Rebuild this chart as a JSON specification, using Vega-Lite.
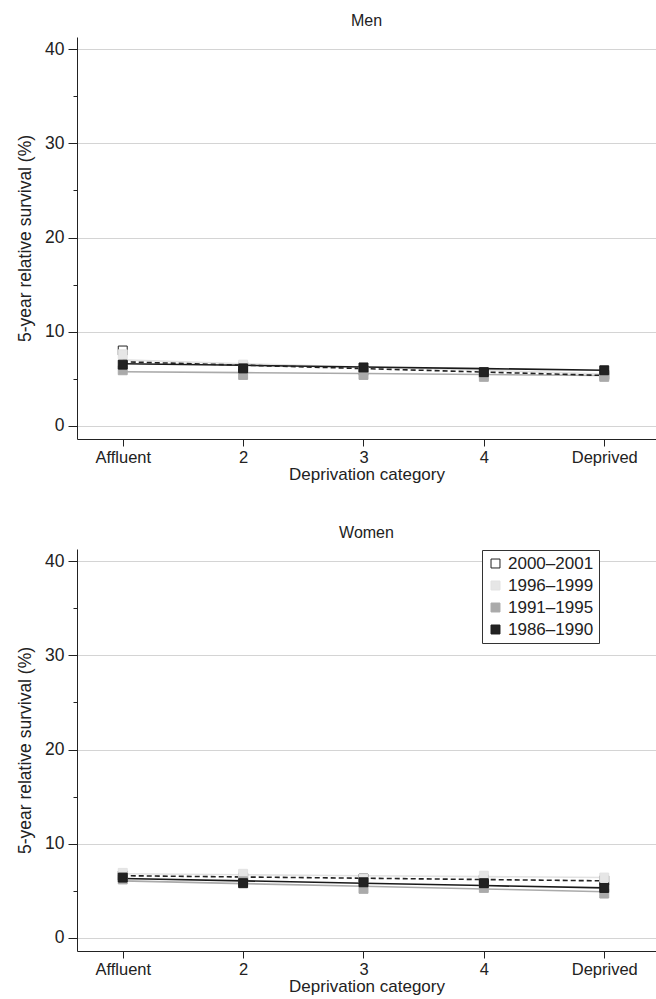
{
  "$schema": "https://vega.github.io/schema/vega-lite/v6.json",
  "background": "white",
  "padding": {"left": 16, "top": 13, "right": 0, "bottom": 0},
  "config": {
    "view": {"stroke": null},
    "font": "Liberation Sans",
    "axis": {"labelFontSize": 17, "titleFontSize": 17, "labelColor": "#222", "titleColor": "#222", "tickColor": "#222", "domainColor": "#222", "titleFontWeight": "normal", "gridColor": "#d4d4d4"},
    "title": {"fontSize": 16, "fontWeight": "normal", "color": "#222"}
  },
  "datasets": {
    "surv": [
      {"sex": "Men", "cat": 1, "period": "2000–2001", "value": 8.0, "fit": 6.8},
      {"sex": "Men", "cat": 2, "period": "2000–2001", "value": 6.3, "fit": 6.44},
      {"sex": "Men", "cat": 3, "period": "2000–2001", "value": 5.9, "fit": 6.08},
      {"sex": "Men", "cat": 4, "period": "2000–2001", "value": 5.6, "fit": 5.71},
      {"sex": "Men", "cat": 5, "period": "2000–2001", "value": 5.4, "fit": 5.35},
      {"sex": "Men", "cat": 1, "period": "1996–1999", "value": 7.6, "fit": 7.0},
      {"sex": "Men", "cat": 2, "period": "1996–1999", "value": 6.5, "fit": 6.6},
      {"sex": "Men", "cat": 3, "period": "1996–1999", "value": 5.8, "fit": 6.25},
      {"sex": "Men", "cat": 4, "period": "1996–1999", "value": 5.4, "fit": 5.9},
      {"sex": "Men", "cat": 5, "period": "1996–1999", "value": 5.3, "fit": 5.5},
      {"sex": "Men", "cat": 1, "period": "1991–1995", "value": 5.9, "fit": 5.75},
      {"sex": "Men", "cat": 2, "period": "1991–1995", "value": 5.4, "fit": 5.65},
      {"sex": "Men", "cat": 3, "period": "1991–1995", "value": 5.4, "fit": 5.55},
      {"sex": "Men", "cat": 4, "period": "1991–1995", "value": 5.2, "fit": 5.45},
      {"sex": "Men", "cat": 5, "period": "1991–1995", "value": 5.2, "fit": 5.35},
      {"sex": "Men", "cat": 1, "period": "1986–1990", "value": 6.5, "fit": 6.6},
      {"sex": "Men", "cat": 2, "period": "1986–1990", "value": 6.1, "fit": 6.43},
      {"sex": "Men", "cat": 3, "period": "1986–1990", "value": 6.2, "fit": 6.25},
      {"sex": "Men", "cat": 4, "period": "1986–1990", "value": 5.7, "fit": 6.08},
      {"sex": "Men", "cat": 5, "period": "1986–1990", "value": 5.9, "fit": 5.9},
      {"sex": "Women", "cat": 1, "period": "2000–2001", "value": 6.6, "fit": 6.6},
      {"sex": "Women", "cat": 2, "period": "2000–2001", "value": 6.4, "fit": 6.46},
      {"sex": "Women", "cat": 3, "period": "2000–2001", "value": 6.3, "fit": 6.33},
      {"sex": "Women", "cat": 4, "period": "2000–2001", "value": 6.2, "fit": 6.19},
      {"sex": "Women", "cat": 5, "period": "2000–2001", "value": 6.1, "fit": 6.05},
      {"sex": "Women", "cat": 1, "period": "1996–1999", "value": 6.9, "fit": 6.8},
      {"sex": "Women", "cat": 2, "period": "1996–1999", "value": 6.8, "fit": 6.7},
      {"sex": "Women", "cat": 3, "period": "1996–1999", "value": 6.3, "fit": 6.6},
      {"sex": "Women", "cat": 4, "period": "1996–1999", "value": 6.6, "fit": 6.5},
      {"sex": "Women", "cat": 5, "period": "1996–1999", "value": 6.4, "fit": 6.4},
      {"sex": "Women", "cat": 1, "period": "1991–1995", "value": 6.2, "fit": 6.05},
      {"sex": "Women", "cat": 2, "period": "1991–1995", "value": 6.0, "fit": 5.76},
      {"sex": "Women", "cat": 3, "period": "1991–1995", "value": 5.2, "fit": 5.48},
      {"sex": "Women", "cat": 4, "period": "1991–1995", "value": 5.3, "fit": 5.19},
      {"sex": "Women", "cat": 5, "period": "1991–1995", "value": 4.7, "fit": 4.9},
      {"sex": "Women", "cat": 1, "period": "1986–1990", "value": 6.4, "fit": 6.3},
      {"sex": "Women", "cat": 2, "period": "1986–1990", "value": 5.8, "fit": 6.05},
      {"sex": "Women", "cat": 3, "period": "1986–1990", "value": 5.9, "fit": 5.8},
      {"sex": "Women", "cat": 4, "period": "1986–1990", "value": 5.8, "fit": 5.55},
      {"sex": "Women", "cat": 5, "period": "1986–1990", "value": 5.3, "fit": 5.3}
    ]
  },
  "spacing": 42,
  "resolve": {"scale": {"fill": "independent", "stroke": "independent"}, "legend": {"fill": "independent", "stroke": "independent"}},
  "vconcat": [
    {
      "title": {"text": "Men", "offset": 8},
      "width": 579,
      "height": 402,
      "data": {"name": "surv"},
      "transform": [{"filter": "datum.sex == 'Men'"}],
      "encoding": {
        "x": {"field": "cat", "type": "quantitative", "scale": {"domain": [0.62, 5.43], "nice": false, "zero": false},
          "axis": {"values": [1, 2, 3, 4, 5], "grid": false, "tickSize": 7, "labelPadding": 3, "labelFontSize": 16.5, "labelExpr": "datum.value == 1 ? 'Affluent' : datum.value == 5 ? 'Deprived' : datum.label", "title": "Deprivation category", "titlePadding": 1}}
      },
      "layer": [
        {
          "transform": [{"filter": "datum.period != '2000–2001'"}],
          "mark": {"type": "line", "strokeWidth": 1.6},
          "encoding": {
            "y": {"field": "fit", "type": "quantitative", "scale": {"domain": [-1.4, 41.3], "nice": false, "zero": false},
              "axis": {"values": [0, 5, 10, 15, 20, 25, 30, 35, 40], "labelExpr": "datum.value % 10 == 0 ? datum.label : ''", "labelFontSize": 17.5, "labelPadding": 4, "tickSize": {"condition": {"test": "datum.value % 10 == 0", "value": 9}, "value": 4}, "gridOpacity": {"condition": {"test": "datum.value % 10 == 0", "value": 1}, "value": 0}, "title": "5-year relative survival (%)", "titleFontSize": 17.5, "titlePadding": 10}},
            "stroke": {"field": "period", "type": "nominal", "scale": {"domain": ["2000–2001", "1996–1999", "1991–1995", "1986–1990"], "range": ["#222222", "#e2e2e2", "#aaaaaa", "#1a1a1a"]}, "legend": null},
            "order": {"field": "cat"}
          }
        },
        {
          "transform": [{"filter": "datum.period == '2000–2001'"}],
          "mark": {"type": "line", "strokeWidth": 1.6, "strokeDash": [5, 3], "color": "#222222"},
          "encoding": {
            "y": {"field": "fit", "type": "quantitative"},
            "order": {"field": "cat"}
          }
        },
        {
          "mark": {"type": "square", "size": 80, "opacity": 1, "strokeWidth": 1},
          "encoding": {
            "y": {"field": "value", "type": "quantitative"},
            "fill": {"field": "period", "type": "nominal", "scale": {"domain": ["2000–2001", "1996–1999", "1991–1995", "1986–1990"], "range": ["#ffffff", "#e6e6e6", "#aaaaaa", "#222222"]}, "legend": null},
            "stroke": {"field": "period", "type": "nominal", "legend": null}
          }
        }
      ]
    },
    {
      "title": {"text": "Women", "offset": 8},
      "width": 579,
      "height": 402,
      "data": {"name": "surv"},
      "transform": [{"filter": "datum.sex == 'Women'"}],
      "encoding": {
        "x": {"field": "cat", "type": "quantitative", "scale": {"domain": [0.62, 5.43], "nice": false, "zero": false},
          "axis": {"values": [1, 2, 3, 4, 5], "grid": false, "tickSize": 7, "labelPadding": 3, "labelFontSize": 16.5, "labelExpr": "datum.value == 1 ? 'Affluent' : datum.value == 5 ? 'Deprived' : datum.label", "title": "Deprivation category", "titlePadding": 1}}
      },
      "layer": [
        {
          "transform": [{"filter": "datum.period != '2000–2001'"}],
          "mark": {"type": "line", "strokeWidth": 1.6},
          "encoding": {
            "y": {"field": "fit", "type": "quantitative", "scale": {"domain": [-1.4, 41.3], "nice": false, "zero": false},
              "axis": {"values": [0, 5, 10, 15, 20, 25, 30, 35, 40], "labelExpr": "datum.value % 10 == 0 ? datum.label : ''", "labelFontSize": 17.5, "labelPadding": 4, "tickSize": {"condition": {"test": "datum.value % 10 == 0", "value": 9}, "value": 4}, "gridOpacity": {"condition": {"test": "datum.value % 10 == 0", "value": 1}, "value": 0}, "title": "5-year relative survival (%)", "titleFontSize": 17.5, "titlePadding": 10}},
            "stroke": {"field": "period", "type": "nominal", "scale": {"domain": ["2000–2001", "1996–1999", "1991–1995", "1986–1990"], "range": ["#222222", "#e2e2e2", "#aaaaaa", "#1a1a1a"]}},
            "order": {"field": "cat"}
          }
        },
        {
          "transform": [{"filter": "datum.period == '2000–2001'"}],
          "mark": {"type": "line", "strokeWidth": 1.6, "strokeDash": [5, 3], "color": "#222222"},
          "encoding": {
            "y": {"field": "fit", "type": "quantitative"},
            "order": {"field": "cat"}
          }
        },
        {
          "mark": {"type": "square", "size": 80, "opacity": 1, "strokeWidth": 1},
          "encoding": {
            "y": {"field": "value", "type": "quantitative"},
            "fill": {"field": "period", "type": "nominal", "scale": {"domain": ["2000–2001", "1996–1999", "1991–1995", "1986–1990"], "range": ["#ffffff", "#e6e6e6", "#aaaaaa", "#222222"]},
              "legend": {"title": null, "orient": "none", "legendX": 405, "legendY": 1, "symbolType": "square", "symbolSize": 80, "symbolStrokeWidth": 1, "labelFontSize": 17, "labelColor": "#222", "strokeColor": "#333", "fillColor": "white", "padding": 5, "rowPadding": 4, "symbolOffset": 0}},
            "stroke": {"field": "period", "type": "nominal"}
          }
        }
      ]
    }
  ]
}
